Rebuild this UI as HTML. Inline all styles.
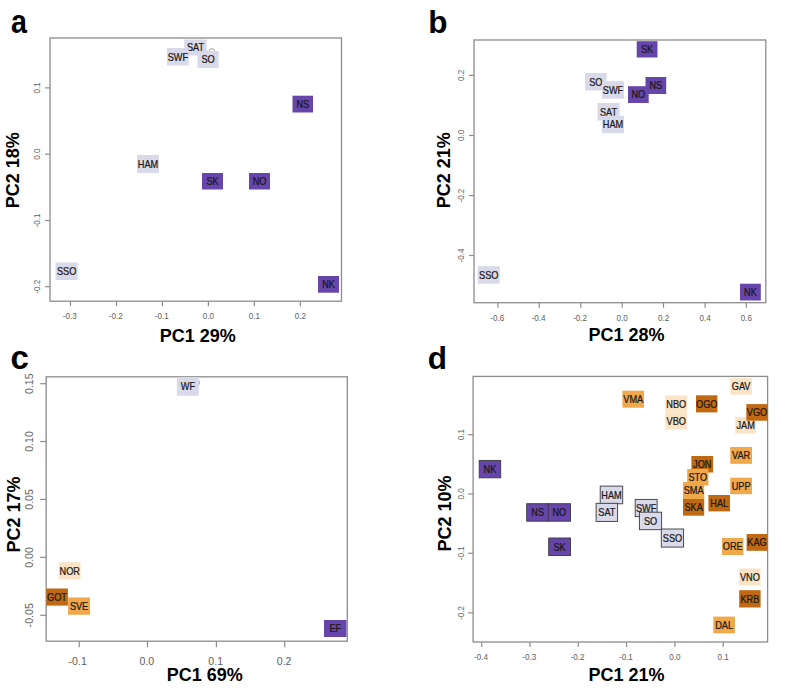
<!DOCTYPE html>
<html><head><meta charset="utf-8"><style>
html,body{margin:0;padding:0;background:#fff;width:785px;height:690px;overflow:hidden}
svg{display:block;font-family:"Liberation Sans",sans-serif}
</style></head><body>
<svg width="785" height="690" viewBox="0 0 785 690">
<rect width="785" height="690" fill="#fff"/>
<text transform="translate(11,32.5) scale(0.87,1)" font-size="33" font-weight="bold" fill="#000">a</text>
<rect x="50" y="38" width="291.5" height="263.2" fill="none" stroke="#8c8c8c" stroke-width="1.3"/>
<line x1="70.5" y1="301.2" x2="70.5" y2="306.2" stroke="#8c8c8c" stroke-width="1.2"/>
<text transform="translate(69.80,319.3) scale(0.92,1)" font-size="8.8" fill="#606060" text-anchor="middle">-0.3</text>
<line x1="116.5" y1="301.2" x2="116.5" y2="306.2" stroke="#8c8c8c" stroke-width="1.2"/>
<text transform="translate(115.80,319.3) scale(0.92,1)" font-size="8.8" fill="#606060" text-anchor="middle">-0.2</text>
<line x1="162.4" y1="301.2" x2="162.4" y2="306.2" stroke="#8c8c8c" stroke-width="1.2"/>
<text transform="translate(161.70,319.3) scale(0.92,1)" font-size="8.8" fill="#606060" text-anchor="middle">-0.1</text>
<line x1="208.4" y1="301.2" x2="208.4" y2="306.2" stroke="#8c8c8c" stroke-width="1.2"/>
<text transform="translate(208.40,319.3) scale(0.92,1)" font-size="8.8" fill="#606060" text-anchor="middle">0.0</text>
<line x1="254.4" y1="301.2" x2="254.4" y2="306.2" stroke="#8c8c8c" stroke-width="1.2"/>
<text transform="translate(254.40,319.3) scale(0.92,1)" font-size="8.8" fill="#606060" text-anchor="middle">0.1</text>
<line x1="300.3" y1="301.2" x2="300.3" y2="306.2" stroke="#8c8c8c" stroke-width="1.2"/>
<text transform="translate(300.30,319.3) scale(0.92,1)" font-size="8.8" fill="#606060" text-anchor="middle">0.2</text>
<line x1="45" y1="87.9" x2="50" y2="87.9" stroke="#8c8c8c" stroke-width="1.2"/>
<text transform="translate(40.2,87.90) rotate(-90) scale(0.92,1)" font-size="8.8" fill="#606060" text-anchor="middle">0.1</text>
<line x1="45" y1="154.2" x2="50" y2="154.2" stroke="#8c8c8c" stroke-width="1.2"/>
<text transform="translate(40.2,154.20) rotate(-90) scale(0.92,1)" font-size="8.8" fill="#606060" text-anchor="middle">0.0</text>
<line x1="45" y1="220.5" x2="50" y2="220.5" stroke="#8c8c8c" stroke-width="1.2"/>
<text transform="translate(40.2,220.50) rotate(-90) scale(0.92,1)" font-size="8.8" fill="#606060" text-anchor="middle">-0.1</text>
<line x1="45" y1="286.7" x2="50" y2="286.7" stroke="#8c8c8c" stroke-width="1.2"/>
<text transform="translate(40.2,286.70) rotate(-90) scale(0.92,1)" font-size="8.8" fill="#606060" text-anchor="middle">-0.2</text>
<text x="197.7" y="342" font-size="18" font-weight="bold" fill="#000" text-anchor="middle">PC1 29%</text>
<text transform="translate(19.4,170.2) rotate(-90)" font-size="18" font-weight="bold" fill="#000" text-anchor="middle">PC2 18%</text>
<circle cx="212" cy="51.6" r="2.9" fill="none" stroke="#8a8a8a" stroke-width="0.8"/>
<rect x="184.2" y="39.5" width="22.50" height="16.00" fill="#d9dae9"/>
<text transform="translate(195.45,51.30) scale(0.9,1)" font-size="10.2" fill="#1c1818" stroke="#1c1818" stroke-width="0.25" text-anchor="middle">SAT</text>
<rect x="167" y="48" width="21.70" height="17.50" fill="#d9dae9"/>
<text transform="translate(177.85,60.55) scale(0.9,1)" font-size="10.2" fill="#1c1818" stroke="#1c1818" stroke-width="0.25" text-anchor="middle">SWF</text>
<rect x="197.5" y="51" width="21.20" height="17.00" fill="#d9dae9"/>
<text transform="translate(208.10,63.30) scale(0.9,1)" font-size="10.2" fill="#1c1818" stroke="#1c1818" stroke-width="0.25" text-anchor="middle">SO</text>
<rect x="137" y="155" width="22.00" height="18.00" fill="#d9dae9"/>
<text transform="translate(148.00,167.80) scale(0.9,1)" font-size="10.2" fill="#1c1818" stroke="#1c1818" stroke-width="0.25" text-anchor="middle">HAM</text>
<rect x="55.5" y="262.5" width="22.20" height="17.50" fill="#d9dae9"/>
<text transform="translate(66.60,275.05) scale(0.9,1)" font-size="10.2" fill="#1c1818" stroke="#1c1818" stroke-width="0.25" text-anchor="middle">SSO</text>
<rect x="292.5" y="95.7" width="20.50" height="16.80" fill="#6646ab"/>
<text transform="translate(302.75,107.90) scale(0.9,1)" font-size="10.2" fill="#1c1818" stroke="#1c1818" stroke-width="0.25" text-anchor="middle">NS</text>
<rect x="202" y="173" width="21.00" height="16.50" fill="#6646ab"/>
<text transform="translate(212.50,185.05) scale(0.9,1)" font-size="10.2" fill="#1c1818" stroke="#1c1818" stroke-width="0.25" text-anchor="middle">SK</text>
<rect x="249" y="173" width="21.00" height="16.50" fill="#6646ab"/>
<text transform="translate(259.50,185.05) scale(0.9,1)" font-size="10.2" fill="#1c1818" stroke="#1c1818" stroke-width="0.25" text-anchor="middle">NO</text>
<rect x="318" y="276" width="21.00" height="16.70" fill="#6646ab"/>
<text transform="translate(328.50,288.15) scale(0.9,1)" font-size="10.2" fill="#1c1818" stroke="#1c1818" stroke-width="0.25" text-anchor="middle">NK</text>
<text x="428.3" y="32.5" font-size="31.5" font-weight="bold" fill="#000" text-anchor="start">b</text>
<rect x="474" y="40" width="291.79999999999995" height="262.7" fill="none" stroke="#8c8c8c" stroke-width="1.3"/>
<line x1="497.9" y1="302.7" x2="497.9" y2="307.7" stroke="#8c8c8c" stroke-width="1.2"/>
<text transform="translate(497.20,320.5) scale(0.92,1)" font-size="8.8" fill="#606060" text-anchor="middle">-0.6</text>
<line x1="539.3" y1="302.7" x2="539.3" y2="307.7" stroke="#8c8c8c" stroke-width="1.2"/>
<text transform="translate(538.60,320.5) scale(0.92,1)" font-size="8.8" fill="#606060" text-anchor="middle">-0.4</text>
<line x1="580.8" y1="302.7" x2="580.8" y2="307.7" stroke="#8c8c8c" stroke-width="1.2"/>
<text transform="translate(580.10,320.5) scale(0.92,1)" font-size="8.8" fill="#606060" text-anchor="middle">-0.2</text>
<line x1="622.2" y1="302.7" x2="622.2" y2="307.7" stroke="#8c8c8c" stroke-width="1.2"/>
<text transform="translate(622.20,320.5) scale(0.92,1)" font-size="8.8" fill="#606060" text-anchor="middle">0.0</text>
<line x1="663.5" y1="302.7" x2="663.5" y2="307.7" stroke="#8c8c8c" stroke-width="1.2"/>
<text transform="translate(663.50,320.5) scale(0.92,1)" font-size="8.8" fill="#606060" text-anchor="middle">0.2</text>
<line x1="705.1" y1="302.7" x2="705.1" y2="307.7" stroke="#8c8c8c" stroke-width="1.2"/>
<text transform="translate(705.10,320.5) scale(0.92,1)" font-size="8.8" fill="#606060" text-anchor="middle">0.4</text>
<line x1="746.3" y1="302.7" x2="746.3" y2="307.7" stroke="#8c8c8c" stroke-width="1.2"/>
<text transform="translate(746.30,320.5) scale(0.92,1)" font-size="8.8" fill="#606060" text-anchor="middle">0.6</text>
<line x1="469" y1="75.3" x2="474" y2="75.3" stroke="#8c8c8c" stroke-width="1.2"/>
<text transform="translate(464.2,75.30) rotate(-90) scale(0.92,1)" font-size="8.8" fill="#606060" text-anchor="middle">0.2</text>
<line x1="469" y1="135.5" x2="474" y2="135.5" stroke="#8c8c8c" stroke-width="1.2"/>
<text transform="translate(464.2,135.50) rotate(-90) scale(0.92,1)" font-size="8.8" fill="#606060" text-anchor="middle">0.0</text>
<line x1="469" y1="195.6" x2="474" y2="195.6" stroke="#8c8c8c" stroke-width="1.2"/>
<text transform="translate(464.2,195.60) rotate(-90) scale(0.92,1)" font-size="8.8" fill="#606060" text-anchor="middle">-0.2</text>
<line x1="469" y1="255.5" x2="474" y2="255.5" stroke="#8c8c8c" stroke-width="1.2"/>
<text transform="translate(464.2,255.50) rotate(-90) scale(0.92,1)" font-size="8.8" fill="#606060" text-anchor="middle">-0.4</text>
<text x="626.6" y="341" font-size="18" font-weight="bold" fill="#000" text-anchor="middle">PC1 28%</text>
<text transform="translate(450.1,170.3) rotate(-90)" font-size="18" font-weight="bold" fill="#000" text-anchor="middle">PC2 21%</text>
<rect x="636.7" y="41.2" width="20.80" height="16.30" fill="#6646ab"/>
<text transform="translate(647.10,53.15) scale(0.9,1)" font-size="10.2" fill="#1c1818" stroke="#1c1818" stroke-width="0.25" text-anchor="middle">SK</text>
<rect x="585" y="73" width="21.70" height="17.50" fill="#d9dae9"/>
<text transform="translate(595.85,85.55) scale(0.9,1)" font-size="10.2" fill="#1c1818" stroke="#1c1818" stroke-width="0.25" text-anchor="middle">SO</text>
<rect x="602" y="81.2" width="22.00" height="17.50" fill="#d9dae9"/>
<text transform="translate(613.00,93.75) scale(0.9,1)" font-size="10.2" fill="#1c1818" stroke="#1c1818" stroke-width="0.25" text-anchor="middle">SWF</text>
<rect x="645.5" y="77" width="20.70" height="17.00" fill="#6646ab"/>
<text transform="translate(655.85,89.30) scale(0.9,1)" font-size="10.2" fill="#1c1818" stroke="#1c1818" stroke-width="0.25" text-anchor="middle">NS</text>
<rect x="628" y="86.2" width="20.70" height="16.80" fill="#6646ab"/>
<text transform="translate(638.35,98.40) scale(0.9,1)" font-size="10.2" fill="#1c1818" stroke="#1c1818" stroke-width="0.25" text-anchor="middle">NO</text>
<rect x="597.5" y="103" width="22.00" height="17.50" fill="#d9dae9"/>
<text transform="translate(608.50,115.55) scale(0.9,1)" font-size="10.2" fill="#1c1818" stroke="#1c1818" stroke-width="0.25" text-anchor="middle">SAT</text>
<rect x="602" y="115.7" width="22.00" height="17.50" fill="#d9dae9"/>
<text transform="translate(613.00,128.25) scale(0.9,1)" font-size="10.2" fill="#1c1818" stroke="#1c1818" stroke-width="0.25" text-anchor="middle">HAM</text>
<rect x="477.7" y="266.2" width="22.00" height="17.50" fill="#d9dae9"/>
<text transform="translate(488.70,278.75) scale(0.9,1)" font-size="10.2" fill="#1c1818" stroke="#1c1818" stroke-width="0.25" text-anchor="middle">SSO</text>
<rect x="740" y="283.7" width="20.80" height="16.80" fill="#6646ab"/>
<text transform="translate(750.40,295.90) scale(0.9,1)" font-size="10.2" fill="#1c1818" stroke="#1c1818" stroke-width="0.25" text-anchor="middle">NK</text>
<text x="10.5" y="369.4" font-size="33" font-weight="bold" fill="#000" text-anchor="start">c</text>
<rect x="46.2" y="376.8" width="301.1" height="264.40000000000003" fill="none" stroke="#8c8c8c" stroke-width="1.3"/>
<line x1="79.2" y1="641.2" x2="79.2" y2="647.2" stroke="#8c8c8c" stroke-width="1.2"/>
<text transform="translate(77.65,664.8) scale(1.0,1)" font-size="10.6" fill="#606060" text-anchor="middle">-0.1</text>
<line x1="147.5" y1="641.2" x2="147.5" y2="647.2" stroke="#8c8c8c" stroke-width="1.2"/>
<text transform="translate(146.80,664.8) scale(1.0,1)" font-size="10.6" fill="#606060" text-anchor="middle">0.0</text>
<line x1="216.4" y1="641.2" x2="216.4" y2="647.2" stroke="#8c8c8c" stroke-width="1.2"/>
<text transform="translate(215.70,664.8) scale(1.0,1)" font-size="10.6" fill="#606060" text-anchor="middle">0.1</text>
<line x1="284.8" y1="641.2" x2="284.8" y2="647.2" stroke="#8c8c8c" stroke-width="1.2"/>
<text transform="translate(284.10,664.8) scale(1.0,1)" font-size="10.6" fill="#606060" text-anchor="middle">0.2</text>
<line x1="40.2" y1="383.7" x2="46.2" y2="383.7" stroke="#8c8c8c" stroke-width="1.2"/>
<text transform="translate(33.0,383.70) rotate(-90) scale(1.0,1)" font-size="10.6" fill="#606060" text-anchor="middle">0.15</text>
<line x1="40.2" y1="441.5" x2="46.2" y2="441.5" stroke="#8c8c8c" stroke-width="1.2"/>
<text transform="translate(33.0,441.50) rotate(-90) scale(1.0,1)" font-size="10.6" fill="#606060" text-anchor="middle">0.10</text>
<line x1="40.2" y1="499.4" x2="46.2" y2="499.4" stroke="#8c8c8c" stroke-width="1.2"/>
<text transform="translate(33.0,499.40) rotate(-90) scale(1.0,1)" font-size="10.6" fill="#606060" text-anchor="middle">0.05</text>
<line x1="40.2" y1="557.4" x2="46.2" y2="557.4" stroke="#8c8c8c" stroke-width="1.2"/>
<text transform="translate(33.0,557.40) rotate(-90) scale(1.0,1)" font-size="10.6" fill="#606060" text-anchor="middle">0.00</text>
<line x1="40.2" y1="615.3" x2="46.2" y2="615.3" stroke="#8c8c8c" stroke-width="1.2"/>
<text transform="translate(33.0,615.30) rotate(-90) scale(1.0,1)" font-size="10.6" fill="#606060" text-anchor="middle">-0.05</text>
<text x="204.7" y="681" font-size="18" font-weight="bold" fill="#000" text-anchor="middle">PC1 69%</text>
<text transform="translate(19.5,514.5) rotate(-90)" font-size="18" font-weight="bold" fill="#000" text-anchor="middle">PC2 17%</text>
<circle cx="196.8" cy="382.7" r="2.8" fill="none" stroke="#8a8a8a" stroke-width="0.8"/>
<rect x="176.9" y="377" width="21.90" height="18.80" fill="#d9dae9"/>
<text transform="translate(187.85,390.20) scale(0.9,1)" font-size="10.2" fill="#1c1818" stroke="#1c1818" stroke-width="0.25" text-anchor="middle">WF</text>
<rect x="59" y="562.2" width="21.60" height="17.20" fill="#fbe4c6"/>
<text transform="translate(69.80,574.60) scale(0.9,1)" font-size="10.2" fill="#1c1818" stroke="#1c1818" stroke-width="0.25" text-anchor="middle">NOR</text>
<rect x="46.2" y="588.5" width="21.70" height="17.10" fill="#c06812"/>
<text transform="translate(57.05,600.85) scale(0.9,1)" font-size="10.2" fill="#1c1818" stroke="#1c1818" stroke-width="0.25" text-anchor="middle">GOT</text>
<rect x="68.1" y="597.5" width="21.90" height="17.25" fill="#efa84a"/>
<text transform="translate(79.05,609.92) scale(0.9,1)" font-size="10.2" fill="#1c1818" stroke="#1c1818" stroke-width="0.25" text-anchor="middle">SVE</text>
<rect x="324" y="620" width="22.50" height="17.00" fill="#6646ab"/>
<text transform="translate(335.25,632.30) scale(0.9,1)" font-size="10.2" fill="#1c1818" stroke="#1c1818" stroke-width="0.25" text-anchor="middle">EF</text>
<text x="427.8" y="369.2" font-size="31.5" font-weight="bold" fill="#000" text-anchor="start">d</text>
<rect x="473.1" y="376.4" width="294.5" height="265.6" fill="none" stroke="#8c8c8c" stroke-width="1.3"/>
<line x1="481.7" y1="642" x2="481.7" y2="647" stroke="#8c8c8c" stroke-width="1.2"/>
<text transform="translate(481.00,659.8) scale(0.92,1)" font-size="8.8" fill="#606060" text-anchor="middle">-0.4</text>
<line x1="530.0" y1="642" x2="530.0" y2="647" stroke="#8c8c8c" stroke-width="1.2"/>
<text transform="translate(529.30,659.8) scale(0.92,1)" font-size="8.8" fill="#606060" text-anchor="middle">-0.3</text>
<line x1="578.3" y1="642" x2="578.3" y2="647" stroke="#8c8c8c" stroke-width="1.2"/>
<text transform="translate(577.60,659.8) scale(0.92,1)" font-size="8.8" fill="#606060" text-anchor="middle">-0.2</text>
<line x1="626.5999999999999" y1="642" x2="626.5999999999999" y2="647" stroke="#8c8c8c" stroke-width="1.2"/>
<text transform="translate(625.90,659.8) scale(0.92,1)" font-size="8.8" fill="#606060" text-anchor="middle">-0.1</text>
<line x1="674.9" y1="642" x2="674.9" y2="647" stroke="#8c8c8c" stroke-width="1.2"/>
<text transform="translate(674.90,659.8) scale(0.92,1)" font-size="8.8" fill="#606060" text-anchor="middle">0.0</text>
<line x1="723.2" y1="642" x2="723.2" y2="647" stroke="#8c8c8c" stroke-width="1.2"/>
<text transform="translate(723.20,659.8) scale(0.92,1)" font-size="8.8" fill="#606060" text-anchor="middle">0.1</text>
<line x1="468.1" y1="434.7" x2="473.1" y2="434.7" stroke="#8c8c8c" stroke-width="1.2"/>
<text transform="translate(463.5,434.70) rotate(-90) scale(0.92,1)" font-size="8.8" fill="#606060" text-anchor="middle">0.1</text>
<line x1="468.1" y1="494.0" x2="473.1" y2="494.0" stroke="#8c8c8c" stroke-width="1.2"/>
<text transform="translate(463.5,494.00) rotate(-90) scale(0.92,1)" font-size="8.8" fill="#606060" text-anchor="middle">0.0</text>
<line x1="468.1" y1="553.3" x2="473.1" y2="553.3" stroke="#8c8c8c" stroke-width="1.2"/>
<text transform="translate(463.5,553.30) rotate(-90) scale(0.92,1)" font-size="8.8" fill="#606060" text-anchor="middle">-0.1</text>
<line x1="468.1" y1="612.9" x2="473.1" y2="612.9" stroke="#8c8c8c" stroke-width="1.2"/>
<text transform="translate(463.5,612.90) rotate(-90) scale(0.92,1)" font-size="8.8" fill="#606060" text-anchor="middle">-0.2</text>
<text x="626.6" y="681" font-size="18" font-weight="bold" fill="#000" text-anchor="middle">PC1 21%</text>
<text transform="translate(450.7,513.6) rotate(-90)" font-size="18" font-weight="bold" fill="#000" text-anchor="middle">PC2 10%</text>
<rect x="622.4" y="390.7" width="21.60" height="17.00" fill="#efa84a"/>
<text transform="translate(633.20,403.00) scale(0.9,1)" font-size="10.2" fill="#1c1818" stroke="#1c1818" stroke-width="0.25" text-anchor="middle">VMA</text>
<rect x="730.3" y="378.2" width="21.70" height="16.50" fill="#fbe4c6"/>
<text transform="translate(741.15,390.25) scale(0.9,1)" font-size="10.2" fill="#1c1818" stroke="#1c1818" stroke-width="0.25" text-anchor="middle">GAV</text>
<rect x="665.3" y="395.5" width="21.90" height="16.90" fill="#fbe4c6"/>
<text transform="translate(676.25,407.75) scale(0.9,1)" font-size="10.2" fill="#1c1818" stroke="#1c1818" stroke-width="0.25" text-anchor="middle">NBO</text>
<rect x="665.3" y="412.4" width="21.90" height="17.00" fill="#fbe4c6"/>
<text transform="translate(676.25,424.70) scale(0.9,1)" font-size="10.2" fill="#1c1818" stroke="#1c1818" stroke-width="0.25" text-anchor="middle">VBO</text>
<rect x="696" y="395.3" width="21.40" height="17.10" fill="#c06812"/>
<text transform="translate(706.70,407.65) scale(0.9,1)" font-size="10.2" fill="#1c1818" stroke="#1c1818" stroke-width="0.25" text-anchor="middle">OGO</text>
<rect x="735.2" y="417" width="20.80" height="16.50" fill="#fbe4c6"/>
<text transform="translate(745.60,429.05) scale(0.9,1)" font-size="10.2" fill="#1c1818" stroke="#1c1818" stroke-width="0.25" text-anchor="middle">JAM</text>
<rect x="746.3" y="404.1" width="21.30" height="16.60" fill="#c06812"/>
<text transform="translate(756.95,416.20) scale(0.9,1)" font-size="10.2" fill="#1c1818" stroke="#1c1818" stroke-width="0.25" text-anchor="middle">VGO</text>
<rect x="730.3" y="447" width="21.70" height="16.80" fill="#efa84a"/>
<text transform="translate(741.15,459.20) scale(0.9,1)" font-size="10.2" fill="#1c1818" stroke="#1c1818" stroke-width="0.25" text-anchor="middle">VAR</text>
<rect x="691.4" y="456" width="21.70" height="16.50" fill="#c06812"/>
<text transform="translate(702.25,468.05) scale(0.9,1)" font-size="10.2" fill="#1c1818" stroke="#1c1818" stroke-width="0.25" text-anchor="middle">JON</text>
<rect x="687.2" y="469" width="21.20" height="16.50" fill="#efa84a"/>
<text transform="translate(697.80,481.05) scale(0.9,1)" font-size="10.2" fill="#1c1818" stroke="#1c1818" stroke-width="0.25" text-anchor="middle">STO</text>
<rect x="683" y="482" width="21.20" height="17.00" fill="#efa84a"/>
<text transform="translate(693.60,494.30) scale(0.9,1)" font-size="10.2" fill="#1c1818" stroke="#1c1818" stroke-width="0.25" text-anchor="middle">SMA</text>
<rect x="730.3" y="477.7" width="21.70" height="16.50" fill="#efa84a"/>
<text transform="translate(741.15,489.75) scale(0.9,1)" font-size="10.2" fill="#1c1818" stroke="#1c1818" stroke-width="0.25" text-anchor="middle">UPP</text>
<rect x="708.4" y="495" width="21.60" height="16.40" fill="#c06812"/>
<text transform="translate(719.20,507.00) scale(0.9,1)" font-size="10.2" fill="#1c1818" stroke="#1c1818" stroke-width="0.25" text-anchor="middle">HAL</text>
<rect x="683" y="499" width="21.20" height="16.70" fill="#c06812"/>
<text transform="translate(693.60,511.15) scale(0.9,1)" font-size="10.2" fill="#1c1818" stroke="#1c1818" stroke-width="0.25" text-anchor="middle">SKA</text>
<rect x="722" y="538" width="21.40" height="17.00" fill="#efa84a"/>
<text transform="translate(732.70,550.30) scale(0.9,1)" font-size="10.2" fill="#1c1818" stroke="#1c1818" stroke-width="0.25" text-anchor="middle">ORE</text>
<rect x="746.6" y="534" width="20.90" height="16.80" fill="#c06812"/>
<text transform="translate(757.05,546.20) scale(0.9,1)" font-size="10.2" fill="#1c1818" stroke="#1c1818" stroke-width="0.25" text-anchor="middle">KAG</text>
<rect x="739.2" y="568.5" width="21.40" height="16.80" fill="#fbe4c6"/>
<text transform="translate(749.90,580.70) scale(0.9,1)" font-size="10.2" fill="#1c1818" stroke="#1c1818" stroke-width="0.25" text-anchor="middle">VNO</text>
<rect x="739.2" y="590.2" width="21.40" height="17.30" fill="#c06812"/>
<text transform="translate(749.90,602.65) scale(0.9,1)" font-size="10.2" fill="#1c1818" stroke="#1c1818" stroke-width="0.25" text-anchor="middle">KRB</text>
<rect x="713.3" y="616.6" width="21.70" height="16.70" fill="#efa84a"/>
<text transform="translate(724.15,628.75) scale(0.9,1)" font-size="10.2" fill="#1c1818" stroke="#1c1818" stroke-width="0.25" text-anchor="middle">DAL</text>
<rect x="479.2" y="460.4" width="21.50" height="17.40" fill="#6646ab" stroke="#3a3a3a" stroke-width="0.9"/>
<text transform="translate(489.95,472.90) scale(0.9,1)" font-size="10.2" fill="#1c1818" stroke="#1c1818" stroke-width="0.25" text-anchor="middle">NK</text>
<rect x="526.7" y="503.7" width="22.00" height="17.50" fill="#6646ab" stroke="#3a3a3a" stroke-width="0.9"/>
<text transform="translate(537.70,516.25) scale(0.9,1)" font-size="10.2" fill="#1c1818" stroke="#1c1818" stroke-width="0.25" text-anchor="middle">NS</text>
<rect x="548.2" y="503.7" width="22.30" height="17.50" fill="#6646ab" stroke="#3a3a3a" stroke-width="0.9"/>
<text transform="translate(559.35,516.25) scale(0.9,1)" font-size="10.2" fill="#1c1818" stroke="#1c1818" stroke-width="0.25" text-anchor="middle">NO</text>
<rect x="548.7" y="538" width="21.80" height="17.50" fill="#6646ab" stroke="#3a3a3a" stroke-width="0.9"/>
<text transform="translate(559.60,550.55) scale(0.9,1)" font-size="10.2" fill="#1c1818" stroke="#1c1818" stroke-width="0.25" text-anchor="middle">SK</text>
<rect x="600.2" y="486.1" width="22.50" height="17.70" fill="#d9dae9" stroke="#3a3a3a" stroke-width="0.9"/>
<text transform="translate(611.45,498.75) scale(0.9,1)" font-size="10.2" fill="#1c1818" stroke="#1c1818" stroke-width="0.25" text-anchor="middle">HAM</text>
<rect x="596.1" y="503.3" width="21.50" height="18.10" fill="#d9dae9" stroke="#3a3a3a" stroke-width="0.9"/>
<text transform="translate(606.85,516.15) scale(0.9,1)" font-size="10.2" fill="#1c1818" stroke="#1c1818" stroke-width="0.25" text-anchor="middle">SAT</text>
<rect x="635.2" y="499.4" width="21.90" height="17.20" fill="#d9dae9" stroke="#3a3a3a" stroke-width="0.9"/>
<text transform="translate(646.15,511.80) scale(0.9,1)" font-size="10.2" fill="#1c1818" stroke="#1c1818" stroke-width="0.25" text-anchor="middle">SWF</text>
<rect x="639.4" y="512.2" width="22.20" height="17.50" fill="#d9dae9" stroke="#3a3a3a" stroke-width="0.9"/>
<text transform="translate(650.50,524.75) scale(0.9,1)" font-size="10.2" fill="#1c1818" stroke="#1c1818" stroke-width="0.25" text-anchor="middle">SO</text>
<rect x="661.3" y="529" width="22.30" height="18.10" fill="#d9dae9" stroke="#3a3a3a" stroke-width="0.9"/>
<text transform="translate(672.45,541.85) scale(0.9,1)" font-size="10.2" fill="#1c1818" stroke="#1c1818" stroke-width="0.25" text-anchor="middle">SSO</text>
</svg></body></html>
